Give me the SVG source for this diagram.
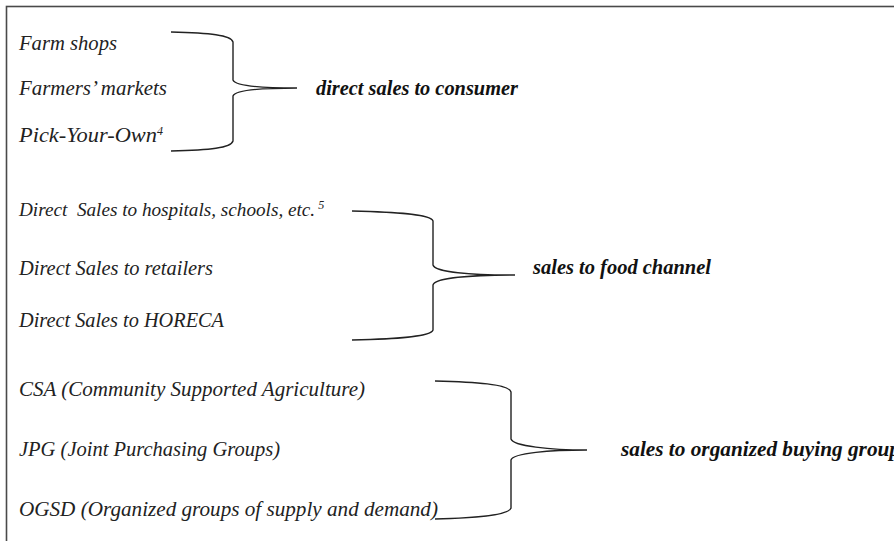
<svg xmlns="http://www.w3.org/2000/svg" width="894" height="541" viewBox="0 0 894 541">
<style>
.item{font-family:"Liberation Serif","Times New Roman",serif;font-style:italic;font-size:20px;fill:#222;white-space:pre}
.label{font-family:"Liberation Serif","Times New Roman",serif;font-style:italic;font-weight:bold;font-size:20.3px;fill:#111}
.sup{font-size:12px}
.brace{fill:none;stroke:#222;stroke-width:1.4}
</style>
<rect x="6.5" y="6.5" width="900" height="600" fill="#fff" stroke="#4a4a4a" stroke-width="1.6"/>
<g id="connectors">
<path class="brace" d="M171,32 C210,33 231,35 233,42 V80 C235,86 265,88 297,88 C265,88 235,90 233,96 V141 C231,148 210,150 171,151"/>
<path class="brace" d="M352,211 C395,212 431,214 433,221 V265 C435,272 470,275 515,275 C470,275 435,278 433,285 V330 C431,337 395,339 352,340"/>
<path class="brace" d="M435,381 C475,382 509,384 511,392 V439 C513,446 550,450 587,450 C550,450 513,453 511,460 V508 C509,515 475,518 435,519"/>
</g>
<g id="farm-shops"><text class="item" x="19" y="50" textLength="98" lengthAdjust="spacingAndGlyphs">Farm shops</text></g>
<g id="farmers-markets"><text class="item" x="19" y="95" textLength="148" lengthAdjust="spacingAndGlyphs">Farmers’ markets</text></g>
<g id="pick-your-own"><text class="item" x="19" y="142"><tspan textLength="138" lengthAdjust="spacingAndGlyphs">Pick-Your-Own</tspan><tspan class="sup" dy="-7">4</tspan></text></g>
<g id="direct-consumer"><text class="label" x="316" y="95" textLength="202" lengthAdjust="spacingAndGlyphs">direct sales to consumer</text></g>
<g id="hospitals"><text class="item" x="19" y="216" style="font-size:19.2px" xml:space="preserve">Direct  Sales to hospitals, schools, etc.<tspan class="sup" dx="3" dy="-7">5</tspan></text></g>
<g id="retailers"><text class="item" x="19" y="275" textLength="194" lengthAdjust="spacingAndGlyphs">Direct Sales to retailers</text></g>
<g id="horeca"><text class="item" x="19" y="327" textLength="205" lengthAdjust="spacingAndGlyphs">Direct Sales to HORECA</text></g>
<g id="food-channel"><text class="label" x="533" y="274" textLength="178" lengthAdjust="spacingAndGlyphs">sales to food channel</text></g>
<g id="csa"><text class="item" x="19" y="396" textLength="346" lengthAdjust="spacingAndGlyphs">CSA (Community Supported Agriculture)</text></g>
<g id="jpg"><text class="item" x="19" y="456" textLength="261" lengthAdjust="spacingAndGlyphs">JPG (Joint Purchasing Groups)</text></g>
<g id="ogsd"><text class="item" x="19" y="516" textLength="419" lengthAdjust="spacingAndGlyphs">OGSD (Organized groups of supply and demand)</text></g>
<g id="organized-buying"><text class="label" x="621" y="456" textLength="279" lengthAdjust="spacingAndGlyphs">sales to organized buying group</text></g>
</svg>
